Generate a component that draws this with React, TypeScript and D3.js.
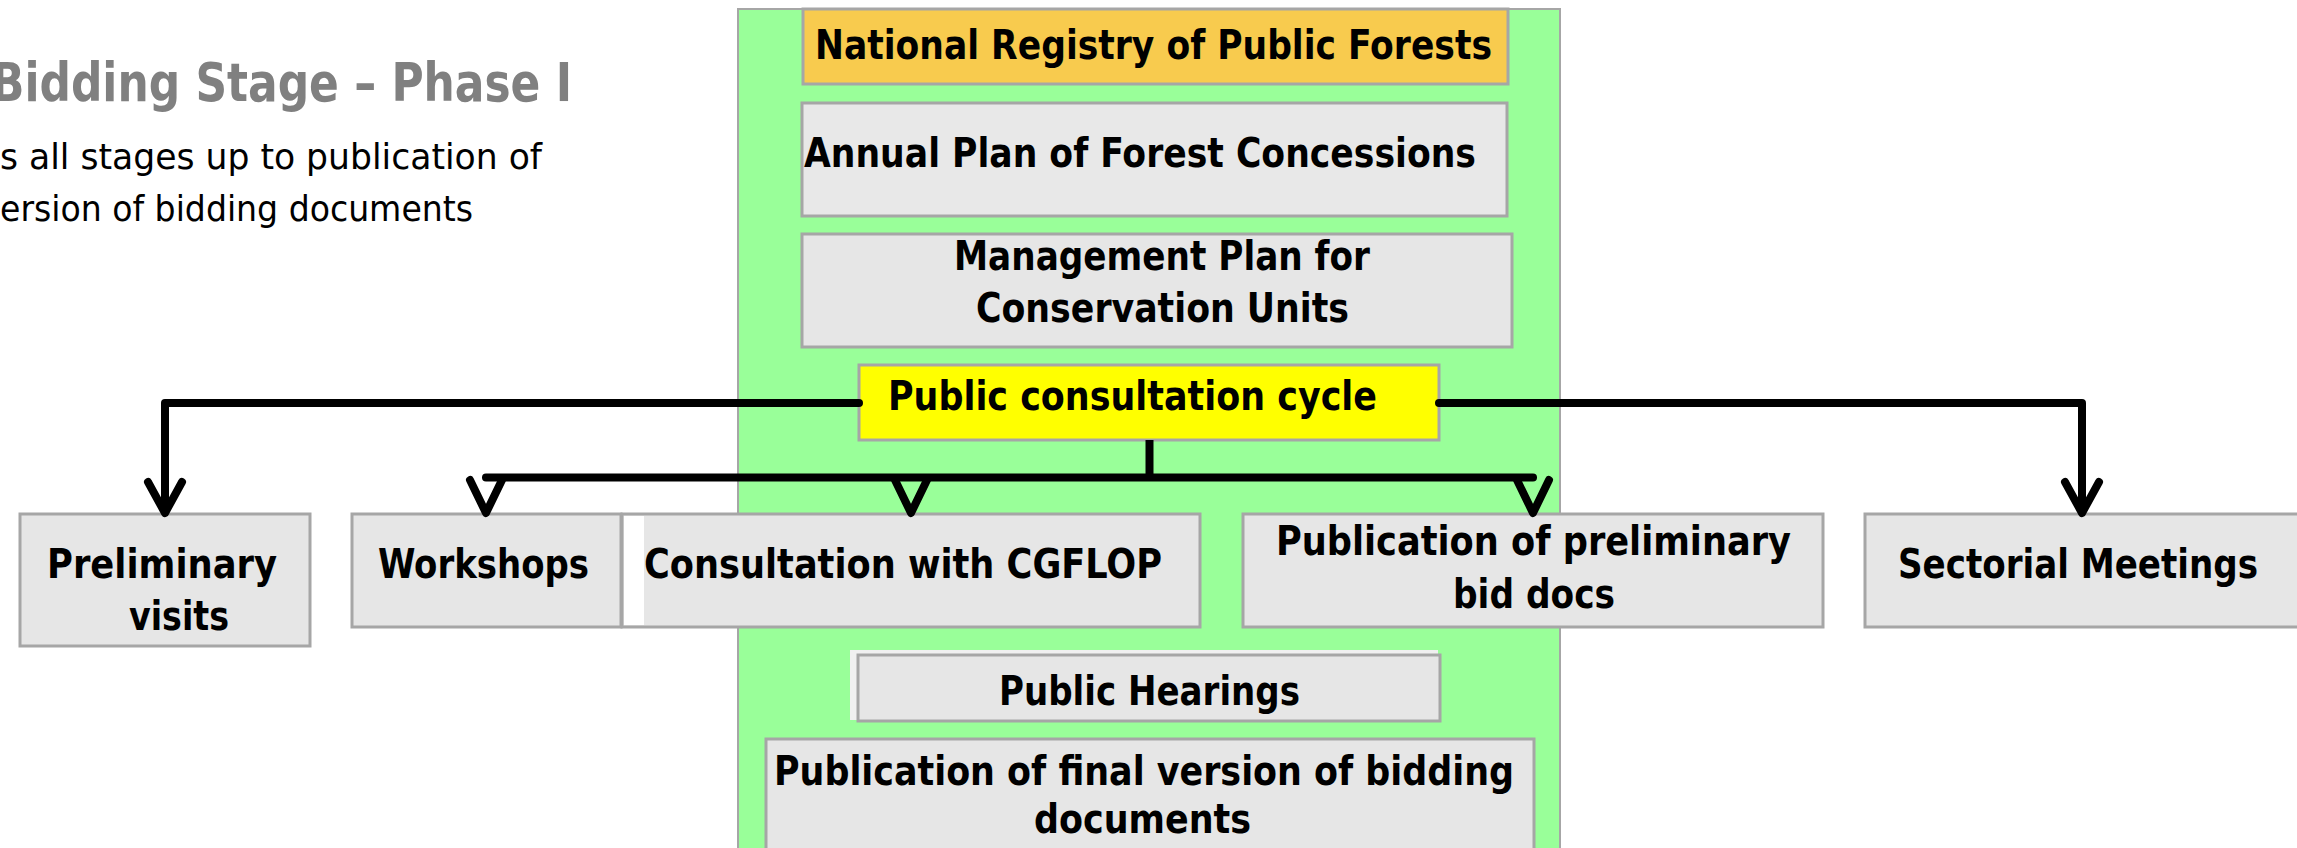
import React from "react";
import * as d3 from "d3";

// labels
const titleText = "Bidding Stage – Phase I";
const subtitleLines = ["s all stages up to publication of", "ersion of bidding documents"];
const columnSteps = [
  { id: "registry", lines: ["National Registry of Public Forests"] },
  { id: "annual", lines: ["Annual Plan of Forest Concessions"] },
  { id: "management", lines: ["Management Plan for", "Conservation Units"] },
  { id: "cycle", lines: ["Public consultation cycle"] },
  { id: "hearings", lines: ["Public Hearings"] },
  { id: "final", lines: ["Publication of final version of bidding", "documents"] },
];
const consultSteps = [
  { id: "visits", lines: ["Preliminary", "visits"] },
  { id: "workshops", lines: ["Workshops"] },
  { id: "cgflop", lines: ["Consultation with CGFLOP"] },
  { id: "prelimDocs", lines: ["Publication of preliminary", "bid docs"] },
  { id: "sectorial", lines: ["Sectorial Meetings"] },
];
// which consultation steps hang off the outer branch vs. the inner branch
const outerBranch = ["visits", "sectorial"];
const innerBranch = ["workshops", "cgflop", "prelimDocs"];

// layout (pixels) — box rect + per-line [x, baseline, width]
const layout: Record<string, { box: number[]; fill: string; text: number[][] }> = {
  registry: { box: [803, 9, 705, 75], fill: "#F8CB4E", text: [[815, 59, 677]] },
  annual: { box: [802, 103, 705, 113], fill: "#E8E8E8", text: [[804, 167, 672]] },
  management: { box: [802, 234, 710, 113], fill: "#E6E6E6", text: [[954, 270, 416], [976, 322, 373]] },
  cycle: { box: [859, 365, 580, 75], fill: "#FFFF00", text: [[888, 410, 489]] },
  hearings: { box: [858, 655, 582, 66], fill: "#E6E6E6", text: [[999, 705, 301]] },
  final: { box: [766, 739, 768, 130], fill: "#E6E6E6", text: [[774, 785, 740], [1034, 833, 217]] },
  visits: { box: [20, 514, 290, 132], fill: "#E6E6E6", text: [[47, 578, 230], [129, 630, 100]] },
  workshops: { box: [352, 514, 269, 113], fill: "#E6E6E6", text: [[378, 578, 211]] },
  cgflop: { box: [622, 514, 578, 113], fill: "#E6E6E6", text: [[644, 578, 518]] },
  prelimDocs: { box: [1243, 514, 580, 113], fill: "#E6E6E6", text: [[1276, 555, 515], [1453, 608, 162]] },
  sectorial: { box: [1865, 514, 460, 113], fill: "#E6E6E6", text: [[1898, 578, 360]] },
};
const arrowX: Record<string, number> = { visits: 165, sectorial: 2082, workshops: 486, cgflop: 911, prelimDocs: 1533 };

const FONT = "'DejaVu Sans', Verdana, sans-serif";
const W = 2297;
const H = 848;

function Box({ id, lines }: { id: string; lines: string[] }) {
  const l = layout[id];
  const [x, y, w, h] = l.box;
  return (
    <g>
      <rect x={x} y={y} width={w} height={h} fill={l.fill} stroke="#A6A6A6" strokeWidth={3} />
      {lines.map((t, i) => (
        <text
          key={i}
          x={l.text[i][0]}
          y={l.text[i][1]}
          textLength={l.text[i][2]}
          lengthAdjust="spacingAndGlyphs"
          fontFamily={FONT}
          fontStretch="condensed"
          fontWeight={700}
          fontSize={40}
          fill="#000"
        >
          {t}
        </text>
      ))}
    </g>
  );
}

export default function App() {
  const line = d3.line<[number, number]>();
  const cyc = layout.cycle.box;
  const cycMidY = 403;
  const innerY = 477.5;
  const tipY = 513;
  const stemX = 1149.5;

  const arrowHead = (x: number, h: number, hw: number) => line([[x - hw, tipY - h], [x, tipY], [x + hw, tipY - h]]);

  const outerPaths = outerBranch.map((id) => {
    const x = arrowX[id];
    const startX = x < stemX ? cyc[0] : cyc[0] + cyc[2];
    return { id, d: line([[startX, cycMidY], [x, cycMidY], [x, tipY - 6]]), head: arrowHead(x, 31, 17) };
  });
  const innerXs = innerBranch.map((id) => arrowX[id]);
  const innerExtent = d3.extent(innerXs) as [number, number];

  const stroke = { stroke: "#000", strokeWidth: 8, fill: "none", strokeLinejoin: "round" as const, strokeLinecap: "round" as const };

  return (
    <svg width={W} height={H} style={{ display: "block", position: "absolute", left: 0, top: 0, background: "#fff" }}>
      {/* header */}
      <text x={-9} y={101} textLength={581} lengthAdjust="spacingAndGlyphs" fontFamily={FONT} fontStretch="condensed" fontWeight={700} fontSize={54} fill="#808080">
        {titleText}
      </text>
      {subtitleLines.map((t, i) => (
        <text key={i} x={0} y={[169, 221][i]} textLength={[542, 473][i]} lengthAdjust="spacingAndGlyphs" fontFamily={FONT} fontStretch="condensed" fontSize={35} fill="#000">
          {t}
        </text>
      ))}

      {/* green process column */}
      <rect x={738} y={9} width={822} height={870} fill="#99FF99" stroke="#A6A6A6" strokeWidth={2} />

      {/* light backing behind Public Hearings */}
      <rect x={850} y={650} width={588} height={70} fill="#F0F0F0" />

      {columnSteps.map((s) => (
        <Box key={s.id} id={s.id} lines={s.lines} />
      ))}
      {consultSteps.map((s) => (
        <Box key={s.id} id={s.id} lines={s.lines} />
      ))}
      {/* white strip at the left of CGFLOP box */}
      <rect x={624} y={516} width={20} height={109} fill="#FFFFFF" />

      {/* connectors */}
      {outerPaths.map((p) => (
        <g key={p.id}>
          <path d={p.d!} {...stroke} />
          <path d={p.head!} {...stroke} />
        </g>
      ))}
      <path d={line([[stemX, cyc[1] + cyc[3]], [stemX, innerY]])!} {...stroke} strokeLinecap="butt" />
      <path d={line([[innerExtent[0], innerY], [innerExtent[1], innerY]])!} {...stroke} />
      {innerXs.map((x) => (
        <path key={x} d={arrowHead(x, 33, 16)!} {...stroke} />
      ))}
    </svg>
  );
}
